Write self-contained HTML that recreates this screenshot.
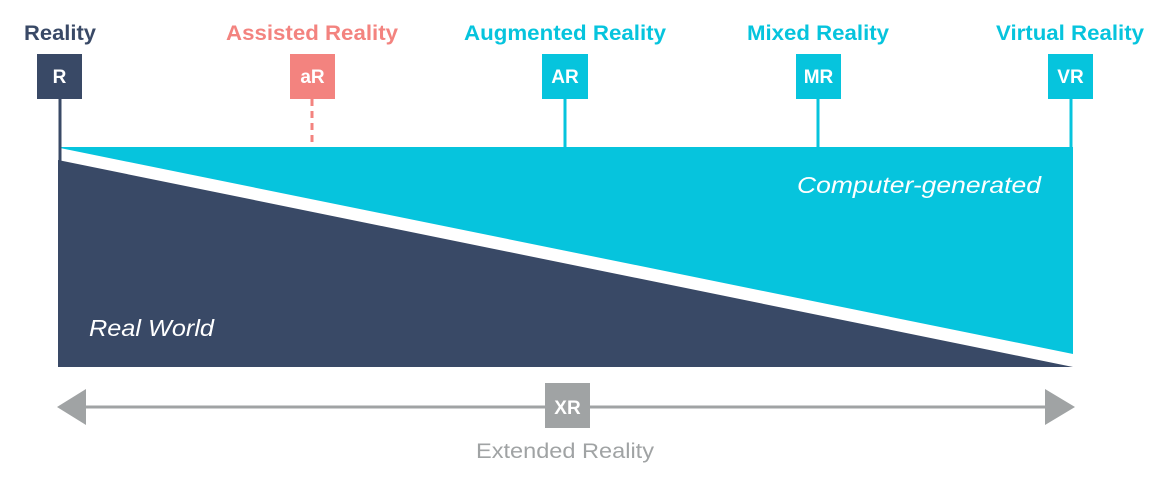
<!DOCTYPE html>
<html><head><style>html,body{margin:0;padding:0;background:#fff}svg{display:block}</style></head>
<body>
<svg width="1168" height="480" viewBox="0 0 1168 480" xmlns="http://www.w3.org/2000/svg" font-family="Liberation Sans, sans-serif">
<polygon points="60,147 1073,147 1073,354 60,148" fill="#06c4dd"/>
<polygon points="58,160 1073,367 58,367" fill="#394966"/>
<line x1="60" y1="99" x2="60" y2="162" stroke="#394966" stroke-width="3"/>
<line x1="312" y1="99" x2="312" y2="147" stroke="#f3837f" stroke-width="3" stroke-dasharray="7,5"/>
<line x1="565" y1="99" x2="565" y2="148" stroke="#06c4dd" stroke-width="3"/>
<line x1="818" y1="99" x2="818" y2="148" stroke="#06c4dd" stroke-width="3"/>
<line x1="1071" y1="99" x2="1071" y2="148" stroke="#06c4dd" stroke-width="3"/>
<rect x="37" y="54" width="45" height="45" fill="#394966"/>
<rect x="290" y="54" width="45" height="45" fill="#f3837f"/>
<rect x="542" y="54" width="46" height="45" fill="#06c4dd"/>
<rect x="796" y="54" width="45" height="45" fill="#06c4dd"/>
<rect x="1048" y="54" width="45" height="45" fill="#06c4dd"/>
<g font-weight="bold" font-size="19" fill="#fff" text-anchor="middle">
<text x="59.5" y="83">R</text><text x="312.5" y="83">aR</text><text x="565" y="83">AR</text><text x="818.5" y="83">MR</text><text x="1070.5" y="83">VR</text>
</g>
<g font-weight="bold" font-size="21" text-anchor="middle">
<text x="60" y="40" fill="#394966" textLength="72" lengthAdjust="spacingAndGlyphs">Reality</text>
<text x="312" y="40" fill="#f3837f" textLength="172" lengthAdjust="spacingAndGlyphs">Assisted Reality</text>
<text x="565" y="40" fill="#06c4dd" textLength="202" lengthAdjust="spacingAndGlyphs">Augmented Reality</text>
<text x="818" y="40" fill="#06c4dd" textLength="142" lengthAdjust="spacingAndGlyphs">Mixed Reality</text>
<text x="1070" y="40" fill="#06c4dd" textLength="148" lengthAdjust="spacingAndGlyphs">Virtual Reality</text>
</g>
<text x="797" y="193" font-size="23" font-style="italic" fill="#fff" textLength="244" lengthAdjust="spacingAndGlyphs">Computer-generated</text>
<text x="89" y="336" font-size="23" font-style="italic" fill="#fff" textLength="125" lengthAdjust="spacingAndGlyphs">Real World</text>
<line x1="80" y1="407" x2="1052" y2="407" stroke="#a0a3a4" stroke-width="3"/>
<polygon points="57,407 86,389 86,425" fill="#a0a3a4"/>
<polygon points="1075,407 1045,389 1045,425" fill="#a0a3a4"/>
<rect x="545" y="383" width="45" height="45" fill="#a0a3a4"/>
<text x="567.5" y="414" font-size="19" font-weight="bold" fill="#fff" text-anchor="middle">XR</text>
<text x="565" y="458" font-size="21" fill="#a0a3a4" text-anchor="middle" textLength="178" lengthAdjust="spacingAndGlyphs">Extended Reality</text>
</svg>
</body></html>
